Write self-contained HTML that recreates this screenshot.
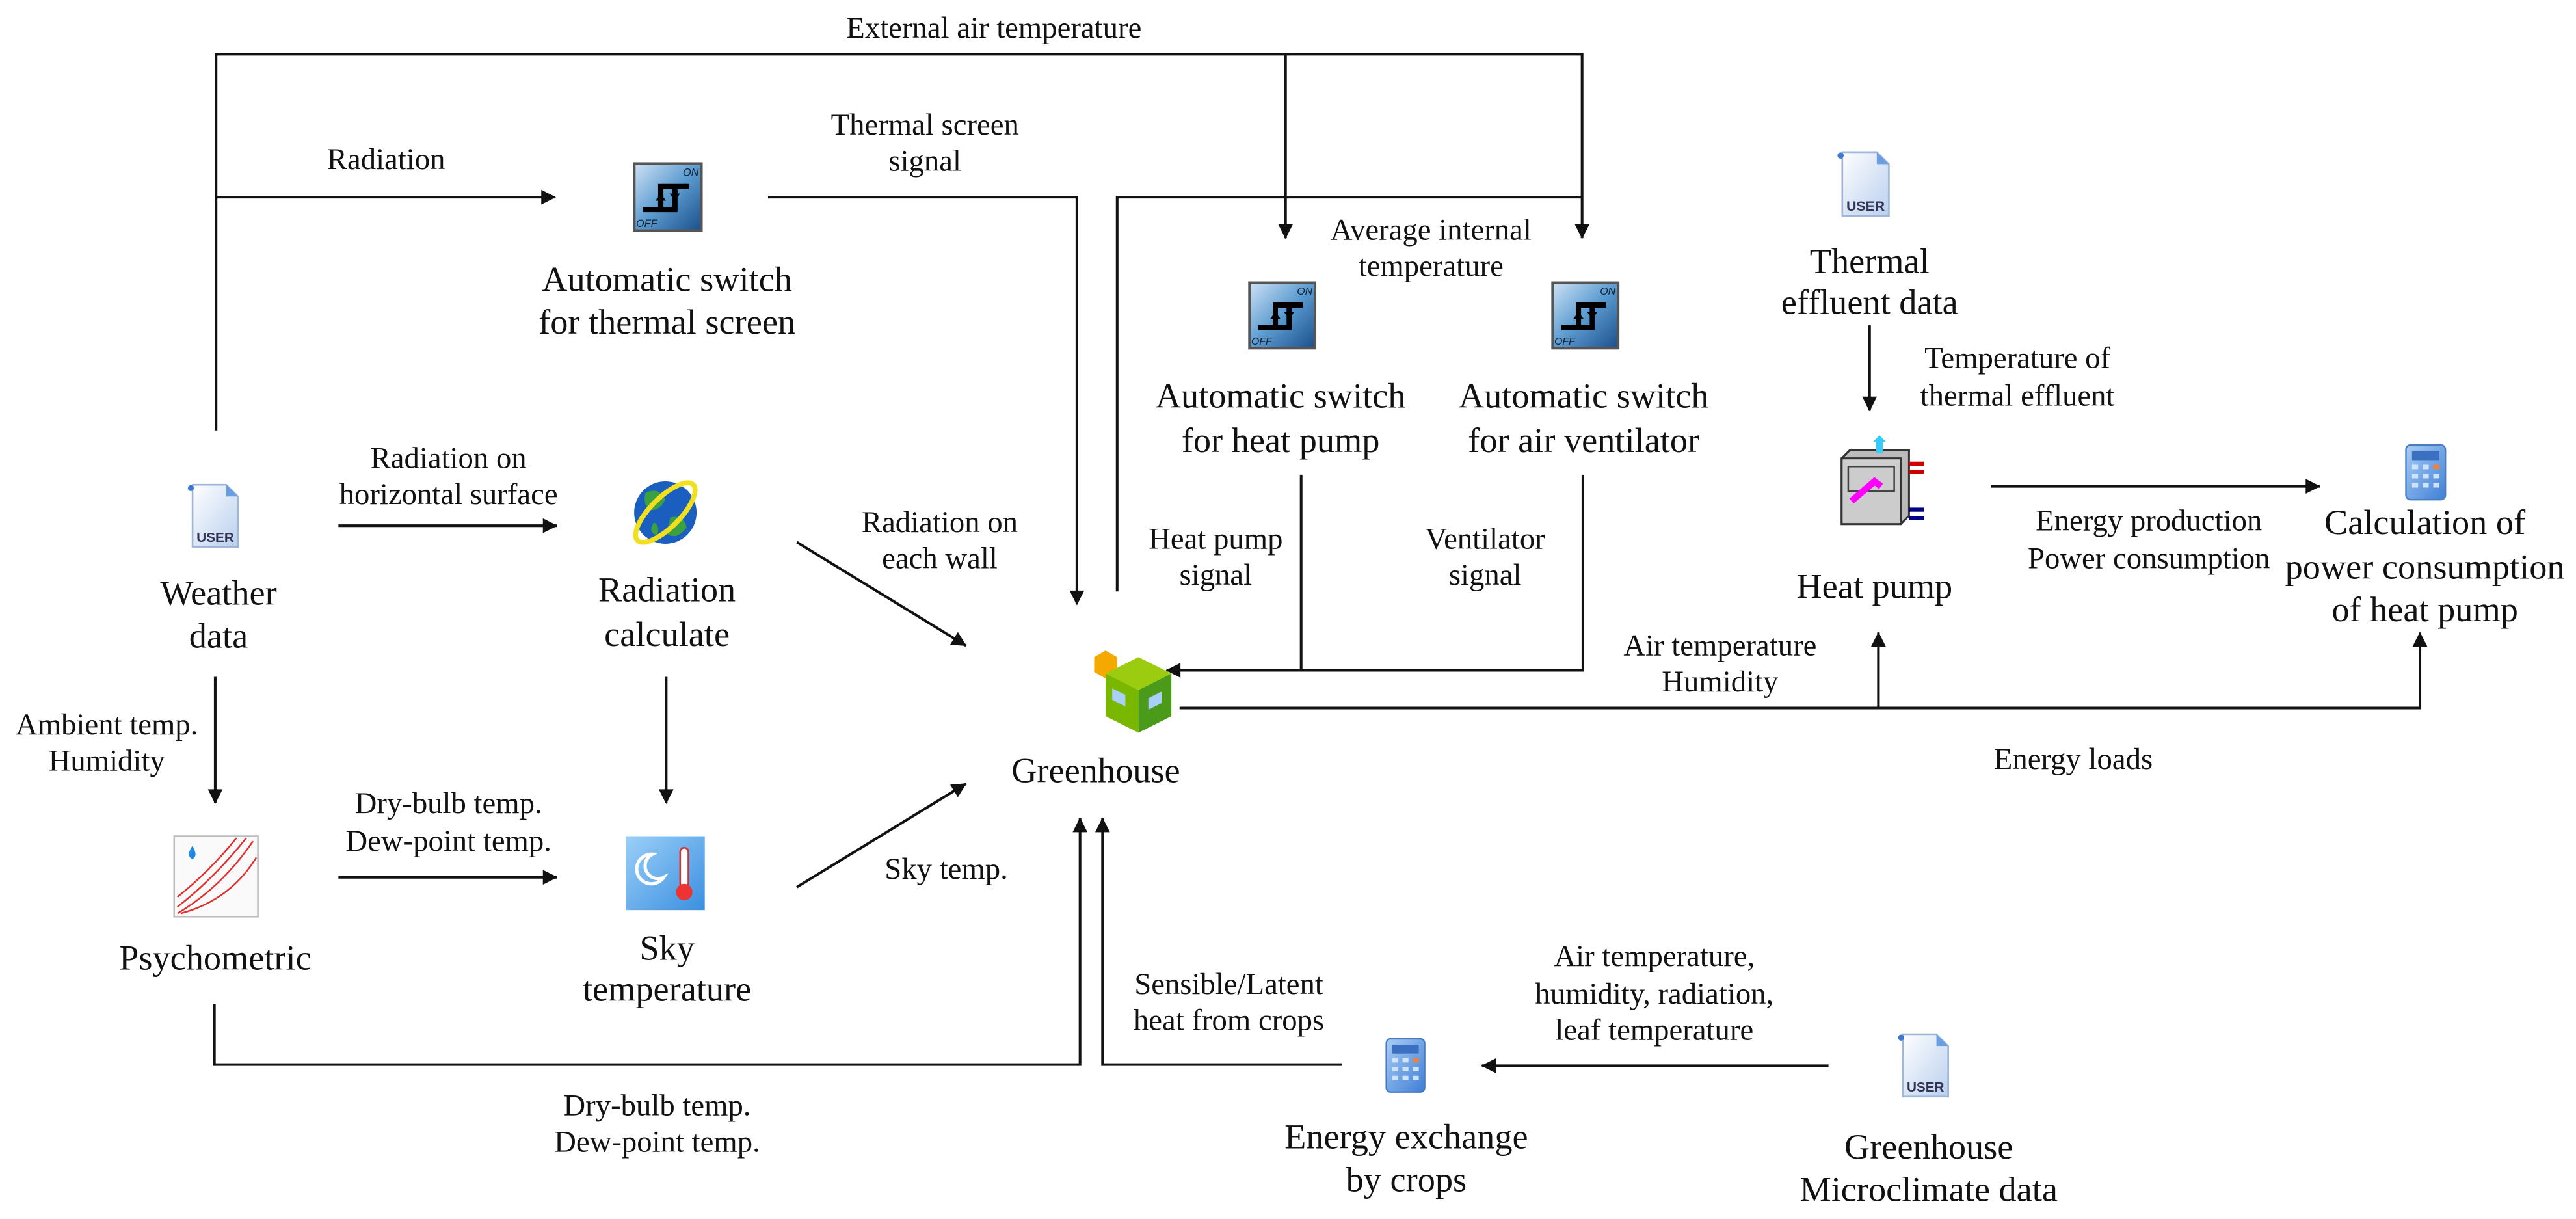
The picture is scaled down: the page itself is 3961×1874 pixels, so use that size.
<!DOCTYPE html>
<html><head><meta charset="utf-8"><style>
html,body{margin:0;padding:0;background:#fff;}
svg{display:block;font-family:"Liberation Serif","Times New Roman",Times,"DejaVu Serif",serif;}
svg text{font-family:"Liberation Serif","Times New Roman",Times,"DejaVu Serif",serif;fill:#111;}
svg text.s{font-family:"Liberation Sans",sans-serif;}
</style></head><body>
<svg width="3961" height="1874" viewBox="0 0 1568 742" preserveAspectRatio="none" xmlns="http://www.w3.org/2000/svg">
<defs>
<marker id="ar" viewBox="0 0 10 10" refX="9.5" refY="5" markerWidth="11" markerHeight="9" markerUnits="userSpaceOnUse" orient="auto"><path d="M0,0 L10,5 L0,10 z" fill="#111"/></marker>
<linearGradient id="gdoc" x1="0" y1="0" x2="1" y2="1"><stop offset="0" stop-color="#ffffff"/><stop offset="1" stop-color="#b9cfee"/></linearGradient>
<linearGradient id="gsw" x1="0" y1="0" x2="1" y2="1"><stop offset="0" stop-color="#cfe2f5"/><stop offset="0.5" stop-color="#5b9bd0"/><stop offset="1" stop-color="#1b4f8a"/></linearGradient>
<linearGradient id="gcal" x1="0" y1="0" x2="1" y2="1"><stop offset="0" stop-color="#a9cdf5"/><stop offset="1" stop-color="#3f7fd6"/></linearGradient>
<linearGradient id="gsky" x1="0" y1="0" x2="1" y2="1"><stop offset="0" stop-color="#9bd0f8"/><stop offset="1" stop-color="#3a8fe0"/></linearGradient>
<symbol id="doc" viewBox="0 0 40 40"><path d="M8,2 L28,2 L35,9 L35,39 L8,39 z" fill="url(#gdoc)" stroke="#9fb6d8" stroke-width="1"/><path d="M28,2 L28,9 L35,9" fill="#6a9ee0"/><circle cx="7" cy="4" r="1.8" fill="#3a78d0"/><text class="s" x="21.5" y="36" font-size="8" text-anchor="middle" font-weight="bold" style="fill:#335;">USER</text></symbol>
<symbol id="sw" viewBox="0 0 40 40"><rect x="1" y="1" width="38" height="38" fill="url(#gsw)" stroke="#555" stroke-width="1.5"/><path d="M6,27 L16,27 L16,14 L32,14 M14,27 L24,27 L24,14" stroke="#000" stroke-width="3" fill="none"/><path d="M13,22 L16,18 L19,22z M21,18 L24,22 L27,18z" fill="#000"/><text class="s" x="33" y="8" font-size="6" text-anchor="middle" font-style="italic" style="fill:#123;">ON</text><text class="s" x="8" y="37" font-size="6" text-anchor="middle" font-style="italic" style="fill:#123;">OFF</text></symbol>
<symbol id="cal" viewBox="0 0 30 40"><rect x="2" y="2" width="26" height="36" rx="3" fill="url(#gcal)" stroke="#4a7cc0"/><rect x="6" y="6" width="18" height="6" fill="#3b6fc0"/><g fill="#cfe3fa"><rect x="6" y="15" width="4" height="3"/><rect x="13" y="15" width="4" height="3"/><rect x="20" y="15" width="4" height="3" fill="#f08040"/><rect x="6" y="21" width="4" height="3"/><rect x="13" y="21" width="4" height="3"/><rect x="20" y="21" width="4" height="3"/><rect x="6" y="27" width="4" height="3"/><rect x="13" y="27" width="4" height="3"/><rect x="20" y="27" width="4" height="3"/></g></symbol>
</defs>

<g stroke="#111" stroke-width="1.6" fill="none">
<polyline points="131.5,262 131.5,33 963,33 963,145" marker-end="url(#ar)"/>
<line x1="782.5" y1="33" x2="782.5" y2="145" marker-end="url(#ar)"/>
<line x1="131.5" y1="120" x2="338" y2="120" marker-end="url(#ar)"/>
<polyline points="467.5,120 655.5,120 655.5,368" marker-end="url(#ar)"/>
<polyline points="680,360 680,120 963,120"/>
<line x1="792" y1="289" x2="792" y2="408"/>
<polyline points="963.5,289 963.5,408 710,408" marker-end="url(#ar)"/>
<line x1="206" y1="320" x2="339" y2="320" marker-end="url(#ar)"/>
<line x1="131" y1="412" x2="131" y2="489" marker-end="url(#ar)"/>
<line x1="405.5" y1="412" x2="405.5" y2="489" marker-end="url(#ar)"/>
<line x1="206" y1="534" x2="339" y2="534" marker-end="url(#ar)"/>
<line x1="485" y1="330" x2="588" y2="393" marker-end="url(#ar)"/>
<line x1="485" y1="540" x2="588" y2="477" marker-end="url(#ar)"/>
<polyline points="130.5,611 130.5,648 657.4,648 657.4,498" marker-end="url(#ar)"/>
<polyline points="817,648 671.1,648 671.1,498" marker-end="url(#ar)"/>
<line x1="1113" y1="648.7" x2="902" y2="648.7" marker-end="url(#ar)"/>
<polyline points="718,431 1473,431 1473,385" marker-end="url(#ar)"/>
<line x1="1143.4" y1="431" x2="1143.4" y2="385" marker-end="url(#ar)"/>
<line x1="1138" y1="198" x2="1138" y2="250" marker-end="url(#ar)"/>
<line x1="1212" y1="296" x2="1412" y2="296" marker-end="url(#ar)"/>
</g>

<use href="#doc" x="109" y="293" width="41" height="41"/>
<use href="#doc" x="1113" y="90" width="42" height="43"/>
<use href="#doc" x="1150" y="627" width="41" height="42"/>
<use href="#sw" x="385" y="98" width="43" height="44"/>
<use href="#sw" x="759" y="171" width="43" height="42"/>
<use href="#sw" x="944" y="171" width="42" height="42"/>
<use href="#cal" x="1462" y="269" width="29" height="37"/>
<use href="#cal" x="842" y="630" width="27" height="37"/>
<g><circle cx="405" cy="312" r="19" fill="#1a5fc0"/><path d="M393,300 q8,-4 12,4 q-4,8 -10,6 q-4,-4 -2,-10z M408,315 q8,-2 10,6 q-6,8 -12,4z M398,318 q4,2 2,8 q-6,-2 -2,-8z" fill="#3aa040"/><ellipse cx="405" cy="312" rx="24" ry="9" transform="rotate(-45 405 312)" fill="none" stroke="#f2e020" stroke-width="3"/></g>
<g><rect x="106" y="509" width="51" height="49" fill="#fafafa" stroke="#bbb"/><path d="M108,556 Q135,540 154,512 M108,552 Q130,535 150,510 M108,546 Q128,530 144,510 M110,556 Q140,548 156,522" stroke="#e03030" stroke-width="1" fill="none"/><path d="M117,515 q-4,6 0,8 q4,-2 0,-8z" fill="#1e88e5"/></g>
<g><rect x="381" y="509" width="48" height="45" fill="url(#gsky)"/><path d="M397,520 a9,9 0 1 0 7,14 a7,7 0 1 1 -7,-14z" fill="none" stroke="#fff" stroke-width="2"/><rect x="414" y="516" width="5" height="24" rx="2.5" fill="#fff" stroke="#c33"/><circle cx="416.5" cy="543" r="5" fill="#e33"/></g>
<g><path d="M666,400 l7,-4 l7,4 v9 l-7,4 l-7,-4z" fill="#f5a800"/><path d="M673,410 l20,-10 l20,10 l-20,10z" fill="#9ccc10"/><path d="M673,410 l20,10 v26 l-20,-10z" fill="#7ab800"/><path d="M693,420 l20,-10 v26 l-20,10z" fill="#4b9a1a"/><path d="M677,419 l8,4 v7 l-8,-4z M699,425 l8,-4 v7 l-8,4z" fill="#a8d0f8"/></g>
<g><path d="M1121,279 l5,-5 h36 v40 l-5,5 h-36z" fill="#bbb" stroke="#333" stroke-width="1.2"/><rect x="1121" y="279" width="36" height="40" fill="#ccc" stroke="#333" stroke-width="1.2"/><rect x="1125" y="284" width="28" height="15" fill="#ccc" stroke="#444"/><path d="M1127,305 l14,-12 l4,3" stroke="#f0f" stroke-width="4" fill="none"/><rect x="1142" y="268" width="4" height="8" fill="#33ccff"/><path d="M1140,269 l4,-4 l4,4z" fill="#33ccff"/><rect x="1162" y="281" width="9" height="2.5" fill="#c00"/><rect x="1162" y="286" width="9" height="2.5" fill="#c00"/><rect x="1162" y="309" width="9" height="2.5" fill="#008"/><rect x="1162" y="314" width="9" height="2.5" fill="#008"/></g>

<g font-size="21.5" text-anchor="middle" dominant-baseline="central">
<text x="406" y="170">Automatic switch</text><text x="406" y="196">for thermal screen</text>
<text x="779.5" y="241">Automatic switch</text><text x="779.5" y="268">for heat pump</text>
<text x="964" y="241">Automatic switch</text><text x="964" y="268">for air ventilator</text>
<text x="133" y="361">Weather</text><text x="133" y="387">data</text>
<text x="406" y="359">Radiation</text><text x="406" y="386">calculate</text>
<text x="131" y="583">Psychometric</text>
<text x="406" y="577">Sky</text><text x="406" y="602">temperature</text>
<text x="667" y="469">Greenhouse</text>
<text x="1138" y="159">Thermal</text><text x="1138" y="184">effluent data</text>
<text x="1141" y="357">Heat pump</text>
<text x="1476" y="318">Calculation of</text><text x="1476" y="345">power consumption</text><text x="1476" y="371">of heat pump</text>
<text x="856" y="692">Energy exchange</text><text x="856" y="718">by crops</text>
<text x="1174" y="698">Greenhouse</text><text x="1174" y="724">Microclimate data</text>
</g>
<g font-size="18.5" text-anchor="middle" dominant-baseline="central">
<text x="605" y="17">External air temperature</text>
<text x="235" y="97">Radiation</text>
<text x="563" y="76">Thermal screen</text><text x="563" y="98">signal</text>
<text x="871" y="140">Average internal</text><text x="871" y="162">temperature</text>
<text x="273" y="279">Radiation on</text><text x="273" y="301">horizontal surface</text>
<text x="572" y="318">Radiation on</text><text x="572" y="340">each wall</text>
<text x="740" y="328">Heat pump</text><text x="740" y="350">signal</text>
<text x="904" y="328">Ventilator</text><text x="904" y="350">signal</text>
<text x="1047" y="393">Air temperature</text><text x="1047" y="415">Humidity</text>
<text x="1228" y="218">Temperature of</text><text x="1228" y="241">thermal effluent</text>
<text x="1308" y="317">Energy production</text><text x="1308" y="340">Power consumption</text>
<text x="1262" y="462">Energy loads</text>
<text x="65" y="441">Ambient temp.</text><text x="65" y="463">Humidity</text>
<text x="273" y="489">Dry-bulb temp.</text><text x="273" y="512">Dew-point temp.</text>
<text x="576" y="529">Sky temp.</text>
<text x="400" y="673">Dry-bulb temp.</text><text x="400" y="695">Dew-point temp.</text>
<text x="748" y="599">Sensible/Latent</text><text x="748" y="621">heat from crops</text>
<text x="1007" y="582">Air temperature,</text><text x="1007" y="605">humidity, radiation,</text><text x="1007" y="627">leaf temperature</text>
</g>
</svg>
</body></html>
